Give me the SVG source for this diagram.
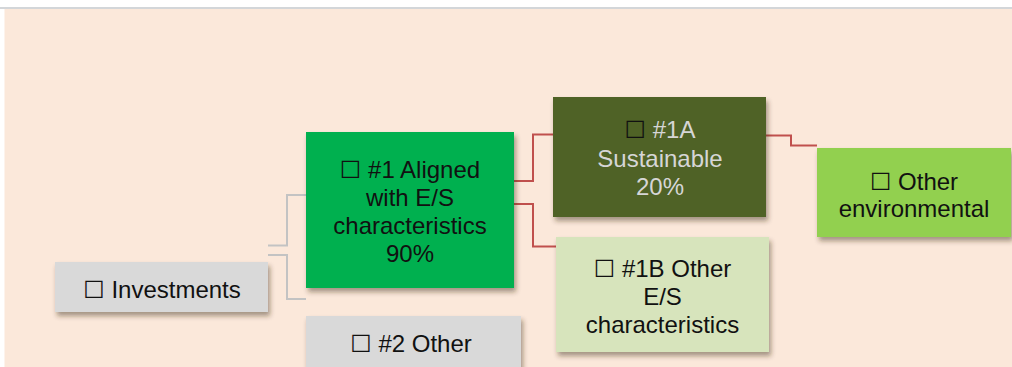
<svg xmlns="http://www.w3.org/2000/svg" width="1012" height="367" viewBox="0 0 1012 367">
<defs>
<filter id="sh" x="-10%" y="-10%" width="130%" height="140%">
<feDropShadow dx="2" dy="4" stdDeviation="2.5" flood-color="#3a2a1a" flood-opacity="0.45"/>
</filter>
</defs>
<style>
text{font-family:"Liberation Sans",Arial,"DejaVu Sans",sans-serif;font-size:24px;text-anchor:middle;fill:#111}
.gc{fill:none;stroke:#C3C3C3;stroke-width:2}
.rc{fill:none;stroke:#C0504D;stroke-width:2}
.lt{fill:#D6D6D6}
.cb{fill:#111}
</style>
<rect x="0" y="0" width="1012" height="367" fill="#ffffff"/>
<rect x="0" y="7" width="1012" height="2" fill="#D3D6D9"/>
<rect x="4.5" y="9" width="1008" height="358" fill="#FBE8DA"/>
<g id="connectors">
<polyline class="gc" points="268,245.5 287,245.5 287,195 306,195"/>
<polyline class="gc" points="268,255 287,255 287,299 306,299"/>
<polyline class="rc" points="514,181 533,181 533,134.5 553,134.5"/>
<polyline class="rc" points="512,204 533,204 533,246.5 556,246.5"/>
<polyline class="rc" points="766,135.5 791,135.5 791,145.5 817,145.5"/>
</g>
<g id="investments">
<rect x="55" y="262" width="213" height="50" fill="#D9D9D9" filter="url(#sh)"/>
<text x="162" y="298">☐ Investments</text>
</g>
<g id="aligned">
<rect x="306" y="132" width="208" height="156" fill="#00B050" filter="url(#sh)"/>
<text x="410" y="178">☐ #1 Aligned</text>
<text x="410" y="206">with E/S</text>
<text x="410" y="233.5">characteristics</text>
<text x="410" y="261.5">90%</text>
</g>
<g id="other2">
<rect x="306" y="316" width="215" height="55" fill="#D9D9D9" filter="url(#sh)"/>
<text x="411" y="352">☐ #2 Other</text>
</g>
<g id="sustainable">
<rect x="553" y="97" width="213" height="120" fill="#4F6228" filter="url(#sh)"/>
<text x="660" y="138"><tspan class="cb">☐</tspan><tspan class="lt"> #1A</tspan></text>
<text x="660" y="166.5" class="lt">Sustainable</text>
<text x="660" y="195" class="lt">20%</text>
</g>
<g id="otherES">
<rect x="556" y="237" width="213" height="115" fill="#D7E4BC" filter="url(#sh)"/>
<text x="662.5" y="277">☐ #1B Other</text>
<text x="662.5" y="305">E/S</text>
<text x="662.5" y="332.5">characteristics</text>
</g>
<g id="environmental">
<rect x="817" y="148" width="194" height="89" fill="#92D050" filter="url(#sh)"/>
<text x="914" y="190">☐ Other</text>
<text x="914" y="216.5">environmental</text>
</g>
</svg>
